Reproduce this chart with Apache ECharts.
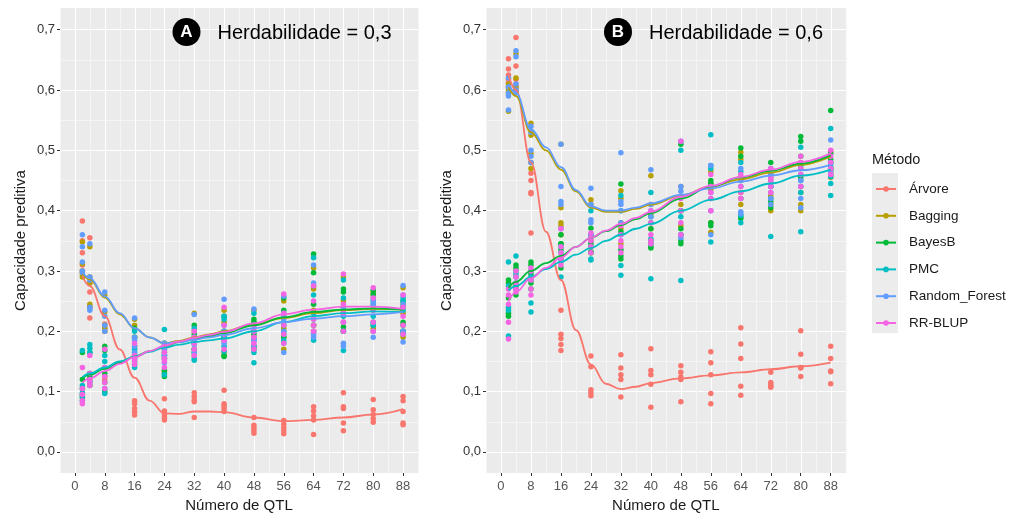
<!DOCTYPE html>
<html>
<head>
<meta charset="utf-8">
<script src="https://cdn.jsdelivr.net/npm/echarts@6/dist/echarts.min.js"></script>
<style>
  html, body { margin: 0; padding: 0; background: #fff; }
  #chart { width: 1018px; height: 518px; }
</style>
</head>
<body>
<div id="chart"></div>
<script>
// metodos e cores (paleta padrao do ggplot)
const methods = ['Árvore', 'Bagging', 'BayesB', 'PMC', 'Random_Forest', 'RR-BLUP'];
const colors = ['#F8766D', '#B79F00', '#00BA38', '#00BFC4', '#619CFF', '#F564E3'];

const qtl = [2, 4, 8, 16, 24, 32, 40, 48, 56, 64, 72, 80, 88];
const smoothX = [2, 4, 8, 12, 16, 20, 24, 28, 32, 36, 40, 48, 56, 64, 72, 80, 88];

const xTicks = [0, 8, 16, 24, 32, 40, 48, 56, 64, 72, 80, 88];
const xMinor = [-4, 4, 12, 20, 28, 36, 44, 52, 60, 68, 76, 84, 92];
const yTicks = [0, 0.1, 0.2, 0.3, 0.4, 0.5, 0.6, 0.7];
const yMinor = [0.05, 0.15, 0.25, 0.35, 0.45, 0.55, 0.65];

// Herdabilidade = 0,3 : replicatas por numero de QTL
const arvoreA = [
    [0.383, 0.35, 0.33, 0.31, 0.30], [0.355, 0.28, 0.265, 0.24, 0.222], [0.212, 0.205, 0.2, 0.125, 0.12],
    [0.085, 0.08, 0.072, 0.066, 0.061], [0.088, 0.068, 0.062, 0.057, 0.053], [0.098, 0.092, 0.086, 0.083, 0.057],
    [0.102, 0.08, 0.076, 0.072, 0.067], [0.057, 0.044, 0.04, 0.036, 0.031], [0.052, 0.046, 0.04, 0.035, 0.03],
    [0.075, 0.068, 0.06, 0.053, 0.029], [0.098, 0.075, 0.072, 0.048, 0.035], [0.087, 0.07, 0.062, 0.055, 0.049],
    [0.092, 0.085, 0.067, 0.048, 0.045]
];
const baggingA = [
    [0.348, 0.312, 0.3, 0.295, 0.29], [0.34, 0.29, 0.28, 0.245, 0.24], [0.26, 0.232, 0.21, 0.205, 0.2],
    [0.22, 0.21, 0.19, 0.175, 0.16], [0.18, 0.17, 0.165, 0.155, 0.135], [0.23, 0.2, 0.185, 0.17, 0.16],
    [0.235, 0.215, 0.2, 0.185, 0.165], [0.235, 0.215, 0.2, 0.19, 0.175], [0.25, 0.225, 0.205, 0.19, 0.17],
    [0.305, 0.27, 0.235, 0.21, 0.2], [0.29, 0.25, 0.23, 0.215, 0.2], [0.265, 0.26, 0.24, 0.205, 0.2],
    [0.272, 0.245, 0.23, 0.2, 0.19]
];
const bayesbA = [
    [0.165, 0.12, 0.105, 0.095, 0.09], [0.165, 0.13, 0.125, 0.118, 0.11], [0.175, 0.168, 0.13, 0.115, 0.1],
    [0.205, 0.19, 0.16, 0.15, 0.145], [0.18, 0.16, 0.135, 0.13, 0.125], [0.21, 0.195, 0.185, 0.17, 0.165],
    [0.225, 0.2, 0.19, 0.16, 0.158], [0.22, 0.215, 0.195, 0.175, 0.17], [0.255, 0.235, 0.21, 0.2, 0.19],
    [0.328, 0.297, 0.275, 0.245, 0.21], [0.27, 0.265, 0.24, 0.207, 0.2], [0.268, 0.262, 0.25, 0.215, 0.21],
    [0.25, 0.24, 0.215, 0.21, 0.2]
];
const pmcA = [
    [0.168, 0.11, 0.098, 0.092, 0.085], [0.178, 0.172, 0.165, 0.13, 0.115], [0.16, 0.15, 0.14, 0.105, 0.097],
    [0.2, 0.17, 0.165, 0.155, 0.14], [0.203, 0.165, 0.16, 0.155, 0.128], [0.205, 0.19, 0.18, 0.155, 0.152],
    [0.225, 0.22, 0.19, 0.175, 0.167], [0.23, 0.21, 0.185, 0.165, 0.148], [0.23, 0.215, 0.195, 0.185, 0.18],
    [0.322, 0.26, 0.23, 0.22, 0.185], [0.285, 0.255, 0.225, 0.2, 0.168], [0.255, 0.245, 0.235, 0.225, 0.21],
    [0.255, 0.25, 0.235, 0.2, 0.195]
];
const rfA = [
    [0.36, 0.34, 0.315, 0.3, 0.297], [0.345, 0.29, 0.285, 0.24, 0.235], [0.265, 0.235, 0.225, 0.21, 0.2],
    [0.222, 0.19, 0.185, 0.175, 0.165], [0.18, 0.175, 0.17, 0.16, 0.148], [0.228, 0.19, 0.185, 0.178, 0.165],
    [0.253, 0.21, 0.2, 0.185, 0.18], [0.237, 0.2, 0.19, 0.185, 0.175], [0.258, 0.225, 0.22, 0.2, 0.165],
    [0.31, 0.28, 0.2, 0.195, 0.19], [0.24, 0.23, 0.215, 0.18, 0.175], [0.25, 0.245, 0.215, 0.2, 0.19],
    [0.276, 0.26, 0.245, 0.2, 0.182]
];
const rrblupA = [
    [0.14, 0.105, 0.095, 0.085, 0.08], [0.16, 0.13, 0.12, 0.115, 0.11], [0.17, 0.14, 0.125, 0.115, 0.105],
    [0.18, 0.16, 0.155, 0.15, 0.145], [0.175, 0.165, 0.155, 0.15, 0.14], [0.2, 0.19, 0.18, 0.17, 0.16],
    [0.24, 0.21, 0.195, 0.185, 0.17], [0.21, 0.2, 0.19, 0.18, 0.17], [0.262, 0.23, 0.21, 0.195, 0.18],
    [0.275, 0.25, 0.22, 0.21, 0.2], [0.295, 0.245, 0.23, 0.215, 0.2], [0.272, 0.255, 0.235, 0.215, 0.2],
    [0.26, 0.24, 0.225, 0.21, 0.195]
];

// Herdabilidade = 0,6
const arvoreB = [
    [0.652, 0.635, 0.625, 0.618, 0.612], [0.687, 0.64, 0.618, 0.61, 0.605], [0.462, 0.45, 0.43, 0.428, 0.363],
    [0.235, 0.195, 0.188, 0.178, 0.168], [0.159, 0.141, 0.103, 0.098, 0.093], [0.161, 0.139, 0.128, 0.12, 0.091],
    [0.171, 0.135, 0.128, 0.112, 0.074], [0.143, 0.132, 0.124, 0.12, 0.083], [0.166, 0.148, 0.128, 0.097, 0.08],
    [0.206, 0.179, 0.155, 0.109, 0.094], [0.132, 0.115, 0.112, 0.109, 0.107], [0.201, 0.162, 0.14, 0.139, 0.125],
    [0.175, 0.155, 0.134, 0.133, 0.113]
];
const baggingB = [
    [0.61, 0.605, 0.6, 0.595, 0.565], [0.66, 0.62, 0.605, 0.6, 0.598], [0.545, 0.525, 0.495, 0.48, 0.47],
    [0.51, 0.405, 0.38, 0.375, 0.36], [0.418, 0.41, 0.35, 0.34, 0.33], [0.433, 0.42, 0.38, 0.37, 0.345],
    [0.458, 0.41, 0.395, 0.37, 0.35], [0.44, 0.41, 0.4, 0.375, 0.36], [0.465, 0.445, 0.435, 0.38, 0.364],
    [0.497, 0.485, 0.45, 0.43, 0.41], [0.455, 0.425, 0.42, 0.41, 0.4], [0.48, 0.47, 0.43, 0.41, 0.4],
    [0.498, 0.47, 0.465, 0.46, 0.455]
];
const bayesbB = [
    [0.285, 0.28, 0.255, 0.23, 0.225], [0.31, 0.305, 0.3, 0.275, 0.26], [0.315, 0.31, 0.295, 0.28, 0.27],
    [0.36, 0.345, 0.345, 0.335, 0.305], [0.371, 0.36, 0.345, 0.332, 0.33], [0.444, 0.365, 0.335, 0.325, 0.32],
    [0.39, 0.37, 0.345, 0.34, 0.338], [0.51, 0.4, 0.37, 0.35, 0.345], [0.45, 0.445, 0.44, 0.38, 0.375],
    [0.504, 0.49, 0.42, 0.39, 0.387], [0.48, 0.46, 0.44, 0.415, 0.405], [0.523, 0.515, 0.49, 0.455, 0.44],
    [0.566, 0.495, 0.485, 0.48, 0.47]
];
const pmcB = [
    [0.315, 0.275, 0.24, 0.235, 0.192], [0.325, 0.295, 0.29, 0.28, 0.27], [0.3, 0.29, 0.285, 0.247, 0.232],
    [0.34, 0.33, 0.32, 0.315, 0.29], [0.4, 0.36, 0.34, 0.32, 0.318], [0.425, 0.4, 0.36, 0.309, 0.293],
    [0.43, 0.38, 0.353, 0.35, 0.287], [0.5, 0.4, 0.39, 0.36, 0.284], [0.526, 0.475, 0.47, 0.42, 0.348],
    [0.48, 0.465, 0.44, 0.392, 0.38], [0.47, 0.45, 0.44, 0.42, 0.357], [0.505, 0.475, 0.45, 0.43, 0.365],
    [0.536, 0.475, 0.456, 0.445, 0.425]
];
const rfB = [
    [0.62, 0.605, 0.595, 0.59, 0.567], [0.665, 0.655, 0.61, 0.6, 0.595], [0.54, 0.53, 0.5, 0.49, 0.48],
    [0.51, 0.44, 0.415, 0.41, 0.37], [0.437, 0.41, 0.385, 0.38, 0.36], [0.496, 0.415, 0.41, 0.4, 0.38],
    [0.468, 0.41, 0.4, 0.39, 0.345], [0.515, 0.44, 0.432, 0.36, 0.355], [0.475, 0.44, 0.43, 0.4, 0.36],
    [0.47, 0.453, 0.45, 0.398, 0.395], [0.46, 0.44, 0.43, 0.42, 0.41], [0.46, 0.45, 0.44, 0.42, 0.405],
    [0.517, 0.48, 0.47, 0.465, 0.46]
];
const rrblupB = [
    [0.27, 0.26, 0.245, 0.215, 0.187], [0.3, 0.29, 0.28, 0.27, 0.265], [0.305, 0.3, 0.285, 0.27, 0.26],
    [0.37, 0.34, 0.33, 0.32, 0.31], [0.363, 0.355, 0.35, 0.34, 0.33], [0.375, 0.36, 0.35, 0.34, 0.33],
    [0.4, 0.38, 0.36, 0.35, 0.345], [0.515, 0.42, 0.4, 0.38, 0.36], [0.46, 0.44, 0.43, 0.42, 0.4],
    [0.46, 0.455, 0.44, 0.43, 0.42], [0.47, 0.455, 0.45, 0.44, 0.43], [0.49, 0.48, 0.47, 0.46, 0.44],
    [0.5, 0.49, 0.48, 0.47, 0.46]
];

// curvas loess, nos pontos de smoothX
const smoothA = [
    [0.292, 0.275, 0.225, 0.17, 0.123, 0.085, 0.064, 0.063, 0.067, 0.067, 0.066, 0.057, 0.051, 0.053, 0.057, 0.062, 0.071],
    [0.296, 0.286, 0.256, 0.228, 0.205, 0.19, 0.18, 0.184, 0.19, 0.195, 0.2, 0.212, 0.222, 0.23, 0.235, 0.237, 0.236],
    [0.122, 0.128, 0.138, 0.148, 0.158, 0.167, 0.175, 0.182, 0.187, 0.192, 0.197, 0.21, 0.223, 0.232, 0.236, 0.238, 0.236],
    [0.124, 0.13, 0.14, 0.15, 0.158, 0.166, 0.173, 0.178, 0.182, 0.185, 0.188, 0.2, 0.215, 0.225, 0.23, 0.233, 0.232],
    [0.298, 0.288, 0.258, 0.23, 0.205, 0.19, 0.18, 0.182, 0.186, 0.19, 0.194, 0.205, 0.215, 0.221, 0.225, 0.228, 0.232],
    [0.115, 0.122, 0.134, 0.146, 0.157, 0.167, 0.176, 0.183, 0.189, 0.194, 0.199, 0.213, 0.228, 0.236, 0.241, 0.241, 0.237]
];
const smoothB = [
    [0.625, 0.6, 0.48, 0.365, 0.285, 0.202, 0.145, 0.113, 0.104, 0.108, 0.114, 0.122, 0.127, 0.132, 0.137, 0.142, 0.148],
    [0.605, 0.59, 0.53, 0.5, 0.468, 0.432, 0.405, 0.398, 0.398, 0.403, 0.41, 0.425, 0.44, 0.452, 0.463, 0.476, 0.49],
    [0.272, 0.282, 0.3, 0.313, 0.325, 0.34, 0.355, 0.366, 0.376, 0.386, 0.396, 0.42, 0.44, 0.455, 0.466, 0.478, 0.492],
    [0.268, 0.275, 0.29, 0.303, 0.315, 0.327, 0.338, 0.35, 0.36, 0.37, 0.378, 0.4, 0.418, 0.432, 0.445, 0.458, 0.468],
    [0.61, 0.595, 0.535, 0.505, 0.472, 0.434, 0.407, 0.4, 0.4, 0.405, 0.412, 0.426, 0.437, 0.448, 0.458, 0.467, 0.476],
    [0.25, 0.265, 0.288, 0.305, 0.322, 0.34, 0.355, 0.367, 0.378, 0.388, 0.398, 0.423, 0.441, 0.456, 0.468, 0.481, 0.495]
];

const pointsA = [arvoreA, baggingA, bayesbA, pmcA, rfA, rrblupA];
const pointsB = [arvoreB, baggingB, bayesbB, pmcB, rfB, rrblupB];

const FONT = '"Liberation Sans", Arial, sans-serif';
const X_MIN = -4, X_MAX = 92;
const Y_MIN = -0.035, Y_MAX = 0.736;

// posicao dos dois paineis (px)
const panels = [
    { left: 60, top: 8, width: 358, height: 465 },
    { left: 486, top: 8, width: 359.7, height: 465 }
];

function panelAxes(gi) {
    const x = {
        type: 'value', gridIndex: gi, min: X_MIN, max: X_MAX, position: 'bottom',
        axisLine: { show: false, onZero: false },
        axisTick: { show: true, length: 3, lineStyle: { color: '#333', width: 1 }, customValues: xTicks },
        axisLabel: { customValues: xTicks, color: '#555', fontSize: 13, margin: 7, fontFamily: FONT },
        splitLine: { show: false },
        name: 'Número de QTL', nameLocation: 'middle', nameGap: 24,
        nameTextStyle: { fontSize: 15, color: '#1a1a1a', fontFamily: FONT }
    };
    const y = {
        type: 'value', gridIndex: gi, min: Y_MIN, max: Y_MAX, position: 'left',
        axisLine: { show: false, onZero: false },
        axisTick: { show: true, length: 3, lineStyle: { color: '#333', width: 1 }, customValues: yTicks },
        axisLabel: {
            customValues: yTicks, color: '#333', fontSize: 13, margin: 5, fontFamily: FONT,
            formatter: v => v.toFixed(1).replace('.', ',')
        },
        splitLine: { show: true, lineStyle: { color: '#fff', width: 1.2 } },
        name: 'Capacidade preditiva', nameLocation: 'middle', nameGap: 32, nameRotate: 90,
        nameTextStyle: { fontSize: 15, color: '#1a1a1a', fontFamily: FONT }
    };
    return { x, y };
}

/**
 * linhas de grade numa serie custom, passando pelas escalas dos eixos;
 * a posicao e arredondada ao meio pixel para a linha de 1px ficar nitida
 */
function gridSeries(gi, values, vertical, color) {
    return {
        type: 'custom', xAxisIndex: gi, yAxisIndex: gi,
        silent: true, z: 1,
        data: values.map(v => (vertical ? [v, 0.3] : [40, v])),
        renderItem: function (params, api) {
            const v = api.value(vertical ? 0 : 1);
            const a = vertical ? api.coord([v, Y_MIN]) : api.coord([X_MIN, v]);
            const b = vertical ? api.coord([v, Y_MAX]) : api.coord([X_MAX, v]);
            let shape;
            if (vertical) {
                const px = Math.round(a[0]) + 0.5;
                shape = { x1: px, y1: a[1], x2: px, y2: b[1] };
            } else {
                const py = Math.round(a[1]) + 0.5;
                shape = { x1: a[0], y1: py, x2: b[0], y2: py };
            }
            return { type: 'line', shape: shape, style: { stroke: color, lineWidth: 1 } };
        }
    };
}

function buildSeries(gi, points, smooth) {
    const lines = [], dots = [];
    methods.forEach((m, k) => {
        lines.push({
            name: m, type: 'line', xAxisIndex: gi, yAxisIndex: gi,
            data: smoothX.map((x, i) => [x, smooth[k][i]]),
            smooth: 0.4, smoothMonotone: 'x', showSymbol: false, symbol: 'none',
            lineStyle: { color: colors[k], width: 1.8 }, itemStyle: { color: colors[k] },
            z: 11, silent: true
        });
        const data = [];
        points[k].forEach((reps, i) => reps.forEach(v => data.push([qtl[i], v])));
        dots.push({
            name: m, type: 'scatter', xAxisIndex: gi, yAxisIndex: gi,
            data: data, symbolSize: 5.5,
            itemStyle: { color: colors[k], opacity: 1 },
            z: 10, silent: true
        });
    });
    const grid = [
        gridSeries(gi, xMinor, true, '#f5f5f5'),
        gridSeries(gi, yMinor, false, '#f5f5f5'),
        gridSeries(gi, xTicks, true, '#ffffff')
    ];
    return { lines, dots, grid };
}

function header(cx, letter, text) {
    return [
        { type: 'circle', z: 100, shape: { cx: cx, cy: 32, r: 14 }, style: { fill: '#000' }, silent: true },
        {
            type: 'text', x: cx, y: 32, z: 101, silent: true,
            style: {
                text: letter, fill: '#fff',
                fontSize: 17, fontWeight: 'bold', fontFamily: FONT, align: 'center', verticalAlign: 'middle'
            }
        },
        {
            type: 'text', x: cx + 31, y: 33, z: 100, silent: true,
            style: {
                text: text, fill: '#000',
                fontSize: 20, fontFamily: FONT, align: 'left', verticalAlign: 'middle'
            }
        }
    ];
}

const chart = echarts.init(document.getElementById('chart'), null, { renderer: 'canvas' });

const axA = panelAxes(0), axB = panelAxes(1);
const sA = buildSeries(0, pointsA, smoothA), sB = buildSeries(1, pointsB, smoothB);

const option = {
    animation: false,
    backgroundColor: '#fff',
    textStyle: { fontFamily: FONT },
    grid: panels.map(p => Object.assign({ show: true, backgroundColor: '#ebebeb', borderWidth: 0 }, p)),
    xAxis: [axA.x, axB.x],
    yAxis: [axA.y, axB.y],
    legend: {
        orient: 'vertical', left: 875, top: 182, padding: 0,
        itemWidth: 20, itemHeight: 7, itemGap: 12.8,
        data: methods,
        textStyle: { fontSize: 13.5, color: '#1a1a1a', lineHeight: 14, padding: [0, 0, 0, 8], fontFamily: FONT },
        selectedMode: false
    },
    graphic: [
        { type: 'rect', shape: { x: 872, y: 173, width: 26, height: 160 }, style: { fill: '#ececec' }, z: -1, silent: true },
        {
            type: 'text', x: 872, y: 160, silent: true,
            style: { text: 'Método', fill: '#1a1a1a', fontSize: 14.5, fontFamily: FONT, verticalAlign: 'middle' }
        }
    ].concat(header(186.5, 'A', 'Herdabilidade = 0,3'), header(618, 'B', 'Herdabilidade = 0,6')),
    series: sA.grid.concat(sB.grid, sA.lines, sB.lines, sA.dots, sB.dots)
};

chart.setOption(option);
</script>
</body>
</html>
